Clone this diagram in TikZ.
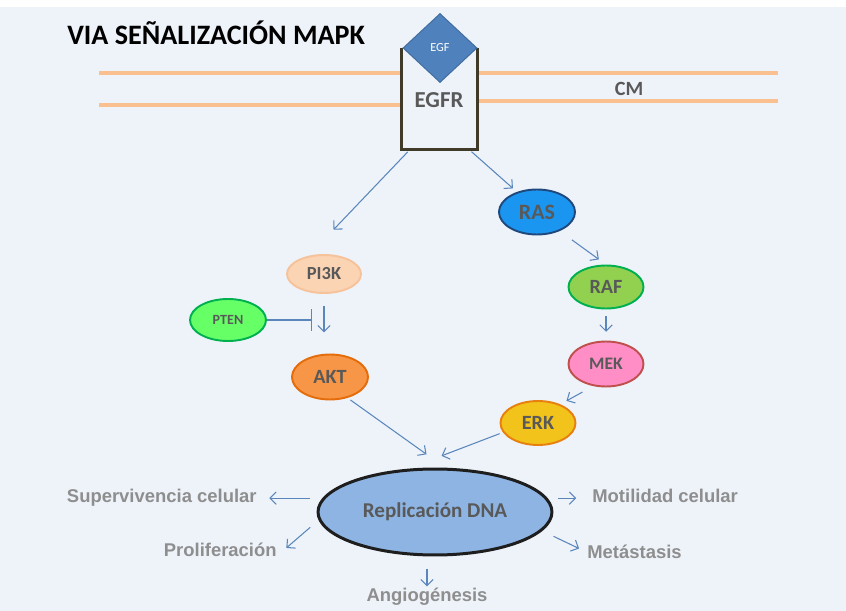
\documentclass[tikz,border=0pt]{standalone}
\usepackage{fontspec}
\setmainfont{Carlito}
\newfontfamily\arialfont{Liberation Sans}
\usetikzlibrary{shapes.geometric,arrows.meta}
\definecolor{bgcol}{HTML}{EEF3FA}
\definecolor{memorange}{HTML}{FAC090}
\definecolor{boxdark}{HTML}{3F3B28}
\definecolor{egfblue}{HTML}{4F81BD}
\definecolor{arrblue}{HTML}{5A86BC}
\definecolor{txtgray}{HTML}{595959}
\definecolor{outgray}{HTML}{8E8E8E}
\definecolor{pifill}{HTML}{FBD4B4}
\definecolor{piline}{HTML}{F6C29A}
\definecolor{ptenfill}{HTML}{66FF66}
\definecolor{greenline}{HTML}{00B050}
\definecolor{aktfill}{HTML}{F79646}
\definecolor{aktline}{HTML}{E46C0A}
\definecolor{rasfill}{HTML}{1B96F0}
\definecolor{rasline}{HTML}{1F497D}
\definecolor{raffill}{HTML}{92D050}
\definecolor{mekfill}{HTML}{FF8EC6}
\definecolor{mekline}{HTML}{C0504D}
\definecolor{erkfill}{HTML}{F2C31A}
\definecolor{erkline}{HTML}{E7800E}
\definecolor{dnafill}{HTML}{8DB4E2}
\definecolor{dnaline}{HTML}{1E1E1E}
\begin{document}
\begin{tikzpicture}[x=0.02cm,y=-0.02cm,
    ell/.style={ellipse,inner sep=0pt,line width=1.1pt,text=txtgray},
    arr/.style={draw=arrblue,line width=0.6pt,-{Straight Barb[length=3.5pt,width=7pt]}},
    inhib/.style={draw=arrblue,line width=0.6pt,-{Bar[width=12pt,line width=0.6pt]}},
    outtxt/.style={inner sep=0pt,text=outgray,font=\arialfont\bfseries\fontsize{10.5}{12}\selectfont},
    membrane/.style={draw=memorange,line width=2.8pt},
    boxline/.style={draw=boxdark,line width=1.7pt,line join=miter}]
    \useasboundingbox (0,0) rectangle (846,611);
    \fill[white] (0,0) rectangle (846,611);
    \fill[bgcol] (0,7) rectangle (846,611);
    \node[anchor=base west,inner sep=0pt,font=\bfseries\fontsize{16}{19}\selectfont] (title) at (67,45) {VIA SEÑALIZACIÓN MAPK};
    \draw[membrane] (99,73) -- (402,73);
    \draw[membrane] (99,105) -- (402,105);
    \draw[membrane] (477,73) -- (778,73);
    \draw[membrane] (477,101) -- (778,101);
    \node[inner sep=0pt,minimum width=1.5cm,minimum height=2.02cm] (egfr) at (439.5,98.5) {};
    \draw[boxline] (egfr.north west) -- (egfr.south west) -- (egfr.south east) -- (egfr.north east);
    \node[diamond,fill=egfblue,draw=egfblue!85!black,line width=0.6pt,minimum width=1.48cm,minimum height=1.38cm,inner sep=0pt,text=white,font=\fontsize{7}{8}\selectfont] (egf) at (440,48) {EGF};
    \node[text=txtgray,font=\bfseries\fontsize{13}{15}\selectfont] (egfrlbl) at (439,100) {EGFR};
    \node[text=txtgray,font=\bfseries\fontsize{11.5}{13}\selectfont] (cm) at (629,89) {CM};
    \node[ell,fill=pifill,draw=piline,minimum width=1.48cm,minimum height=0.76cm,font=\bfseries\fontsize{10.5}{12}\selectfont] (pi3k) at (324,274) {PI3K};
    \node[ell,fill=ptenfill,draw=greenline,minimum width=1.52cm,minimum height=0.84cm,font=\bfseries\fontsize{8}{10}\selectfont] (pten) at (228,320) {PTEN};
    \node[ell,fill=aktfill,draw=aktline,minimum width=1.52cm,minimum height=0.9cm,font=\bfseries\fontsize{11.5}{13}\selectfont] (akt) at (330,377) {AKT};
    \node[ell,fill=rasfill,draw=rasline,minimum width=1.52cm,minimum height=0.9cm,font=\bfseries\fontsize{12.5}{14}\selectfont] (ras) at (537,212) {RAS};
    \node[ell,fill=raffill,draw=greenline,minimum width=1.5cm,minimum height=0.86cm,font=\bfseries\fontsize{11.5}{13}\selectfont] (raf) at (606,287) {RAF};
    \node[ell,fill=mekfill,draw=mekline,minimum width=1.5cm,minimum height=0.9cm,font=\bfseries\fontsize{10}{12}\selectfont] (mek) at (606,364) {MEK};
    \node[ell,fill=erkfill,draw=erkline,minimum width=1.5cm,minimum height=0.88cm,font=\bfseries\fontsize{11.5}{14}\selectfont] (erk) at (538,423) {ERK};
    \node[ell,fill=dnafill,draw=dnaline,line width=1.7pt,minimum width=4.68cm,minimum height=1.72cm,font=\bfseries\fontsize{12}{14}\selectfont] (dna) at (435,512) {Replicación DNA};
    \node[outtxt,anchor=base east] (superv) at (257,502) {Supervivencia celular};
    \node[outtxt,anchor=base east] (prolif) at (277,556) {Proliferación};
    \node[outtxt,anchor=base] (angio) at (427,602) {Angiogénesis};
    \node[outtxt,anchor=base west] (motil) at (592,502) {Motilidad celular};
    \node[outtxt,anchor=base west] (metas) at (587,559) {Metástasis};
    \draw[arr,shorten <=2pt,shorten >=0.72cm] (egfr.-120) -- (pi3k.130);
    \draw[arr,shorten <=2pt,shorten >=3pt] (egfr.-60) -- (ras.135);
    \draw[arr,shorten <=0.3cm,shorten >=5pt] (ras.-40) -- (raf.north);
    \draw[arr,shorten <=4pt,shorten >=5pt] (raf.south) -- (mek.north);
    \draw[arr,shorten <=7pt,shorten >=4pt] (mek.-120) -- (erk.40);
    \draw[arr,shorten <=7pt,shorten >=12pt] (pi3k.south) -- (pi3k.south |- akt.north);
    \draw[inhib,shorten >=7pt] (pten.east) -- (pten.east -| pi3k.south);
    \draw[arr,shorten <=2pt,shorten >=0.46cm] (akt.-50) -- (dna.77);
    \draw[arr,shorten <=2pt,shorten >=0.72cm] (erk.195) -- (dna.122);
    \draw[arr,shorten <=0.24cm,shorten >=7pt] (dna.173) -- (dna.173 -| superv.east);
    \draw[arr,shorten <=0.22cm,shorten >=7pt] (dna.184) -- (prolif.base east);
    \draw[arr,shorten <=7pt,shorten >=1pt] (dna.south -| angio.north) -- (angio.north);
    \draw[arr,shorten <=6pt,shorten >=9pt] (dna.7) -- (dna.7 -| motil.west);
    \draw[arr,shorten <=0.25cm,shorten >=5pt] (dna.-10) -- (metas.west);
\end{tikzpicture}
\end{document}
